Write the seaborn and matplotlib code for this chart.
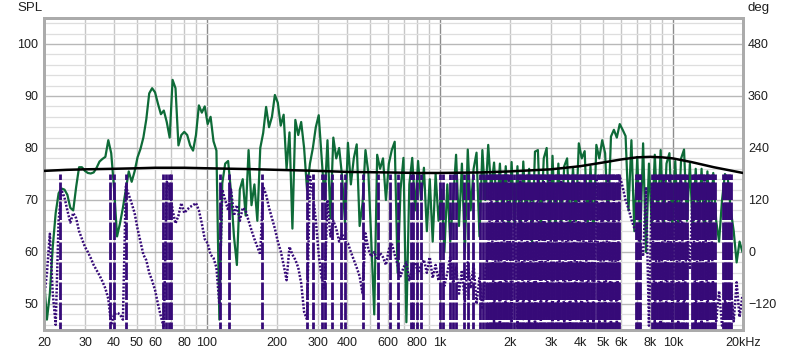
import numpy as np
import pandas as pd
import matplotlib
matplotlib.use("Agg")
import matplotlib.pyplot as plt
import seaborn as sns

# ---------------- data ----------------
# 1/24-octave measurement grid, 20 Hz .. 20 kHz
FREQ_HZ = 20.0 * 2.0 ** (np.arange(240) / 24.0)

SPL_DB = [
    55, 47, 52, 61, 67.5, 71.3, 72.2, 72, 71, 68.5,
    68, 72.5, 76.3, 76.3, 75.6, 75.2, 75.1, 75.3, 76.2, 77.4,
    77.9, 78.3, 81.5, 79, 72, 63, 65.5, 68.5, 72, 75.5,
    73.5, 75.5, 78.2, 79.8, 82, 85.5, 90.5, 91.5, 90.7, 88.5,
    86.5, 87.2, 85, 82, 93.1, 91.5, 80.5, 82.5, 83.1, 82.5,
    80.5, 79.5, 82.5, 88.2, 86.8, 88, 84.6, 86, 81.3, 79.5,
    47, 73.2, 77, 77.5, 71.5, 63, 57.5, 72, 74, 67,
    79.6, 69, 73, 66, 80, 82.9, 87.9, 84, 86, 90.2,
    88.7, 84.3, 86.4, 76, 83, 64.5, 85.4, 82.5, 85, 80,
    72, 77, 80, 84, 86.3, 78, 70, 81.5, 66.5, 82,
    78, 80, 74.5, 65.6, 81, 73, 78, 80.7, 65, 69.4,
    79.6, 75.2, 62, 48, 78.7, 76, 78, 70, 77, 79.6,
    81.2, 56, 72, 78.1, 46.5, 73, 78.1, 68, 77.5, 70,
    76.2, 64, 74, 62, 75, 66, 72, 60, 73, 62,
    70, 78.7, 65, 77, 60, 79.7, 68, 76, 79.1, 63,
    79.6, 70, 80.6, 72, 77.2, 68, 77, 66, 76.5, 64,
    77.3, 65, 76.5, 63, 77.4, 66, 76, 62, 79.3, 79.6,
    64, 78, 80, 63, 78.5, 64, 77, 65, 76.5, 78,
    64, 76.3, 66, 80.9, 78, 79.4, 65, 76.5, 63, 80.6,
    78, 81.5, 79, 66, 82.2, 83.5, 82, 84.6, 83.5, 82.3,
    68, 81.5, 64, 78.3, 62, 80.9, 60, 77, 65, 78.7,
    66, 79.6, 64, 77, 79, 65, 77.5, 64, 78, 79.7,
    66, 77, 64, 76, 65, 76, 63, 75.5, 64, 75.2,
    66, 62, 70, 75, 74, 68, 64, 58, 62, 60,
]

PHASE_DEG = [
    -108, -48, 42, -96, -168, 72, 143, 126, 96, 68,
    90, 78, 48, 30, 12, 0, -14, -30, -42, -54,
    -68, -84, -108, -168, -144, -140, -144, -156, 151, 132,
    112, 90, 54, 24, -6, -19, -48, -66, -88, -120,
    -149, -174, 162, 144, 96, 66, 84, 113, 90, 98,
    104, 108, 113, 96, 66, 30, 20, -6, -14, -36,
    -120, 144, 120, 96, 144, 84, 108, 72, 102, 96,
    72, 50, 30, 12, -6, 151, 132, 102, 78, 54,
    24, 2, -30, -65, 12, -6, -18, -36, -72, -138,
    -156, 174, 132, 74, -6, -60, -84, 120, 36, 72,
    54, 24, 42, 24, 20, 0, -18, -36, -56, -96,
    43, 6, -11, 0, -18, -2, -12, -30, 6, 20,
    -6, -30, -56, -36, -24, -65, -36, -24, -48, -31,
    -18, -48, -12, -60, -30, -66, -24, -78, -48, -12,
    -72, -36, -96, -42, -114, -24, -84, -30, -120, -60,
    -132, -48, 0,
    160, -165, 150, -170, 170, -150, 165, -160, 155, -175,
    170, -155, 160, -170, 150, -165, 175, -160, 165, -150,
    170, -170, 155, -160, 165, -175, 150, -165, 170, -155,
    160, -170, 165, -160, 150, -175, 170, -165, 155, -160,
    165, -170, 150, -170,
    175, 150, 120, 100, 75, 55, 40,
    20, -10, 150, -170,
    160, -165, 150, -170, 170, -150, 165, -160, 155, -175, 170, -155,
    60, -40,
    160, -170, 150, -165, 170, -160, 155,
    -100, -160, -90, -170, -110, -150, -80, -160, -70, -150, -100,
]

# frequencies (Hz) where the wrapped phase jumps from +180 to -180
PHASE_WRAP_HZ = [
    23.4, 38.4, 39.9, 44.8, 65.1, 67.1, 68.8, 70.5, 113.9, 124.5, 171.6,
    268, 286, 311, 321, 343, 377, 392, 466, 544, 611, 663, 752, 767, 795, 830,
    1001, 1031, 1105, 1139, 1173, 1270, 1321, 1387, 1487, 1532, 1578,
    1610, 1636, 1662, 1689, 1716, 1743, 1771, 1800, 1829, 1858, 1888, 1918,
    1949, 1975, 2028, 2090, 2150, 2178, 2213, 2249, 2285, 2321, 2358, 2396,
    2434, 2473, 2513, 2553, 2594, 2636, 2678, 2721, 2764, 2808, 2853, 2899,
    2945, 2992, 3040, 3089, 3138, 3188, 3239, 3291, 3344, 3397, 3452, 3507,
    3563, 3620, 3678, 3737, 3797, 3857, 3919, 3982, 4045, 4110, 4176, 4243,
    4310, 4379, 4449, 4521, 4593, 4741, 4817, 4894, 4972, 5052, 5133, 5215,
    5298, 5383, 5469, 5557, 5646, 5736, 5828, 5900,
    6950, 7050, 7150, 7250,
    8140, 8270, 8400, 8540, 8680, 8820, 8960, 9110, 9260, 9410, 9570, 9720,
    9880, 10210, 10380, 10550, 10720, 10900, 11080, 11260, 11450,
    12080, 12280, 12480, 12680, 12890, 13100, 13310, 13530, 13750, 13970,
    14200, 14430, 14660, 14900, 15140,
    16400, 16660, 16930, 17200, 17470, 17750,
]

TREND_HZ = [20, 25, 30, 40, 50, 60, 80, 100, 150, 200, 300, 400, 600, 800,
            1000, 1500, 2000, 3000, 4000, 5000, 6000, 7000, 8000, 9000,
            10000, 12000, 15000, 20000]
TREND_DB = [75.6, 75.8, 75.9, 76.0, 76.1, 76.2, 76.2, 76.1, 75.95, 75.8,
            75.6, 75.4, 75.3, 75.2, 75.2, 75.3, 75.5, 75.9, 76.5, 77.2,
            77.8, 78.2, 78.3, 78.2, 78.0, 77.3, 76.3, 75.2]

XMAJOR_HZ = [100, 1000, 10000]
XMAJOR_LABELS = ["100", "1k", "10k"]
XMINOR_HZ = [20, 30, 40, 50, 60, 70, 80, 90, 200, 300, 400, 500, 600, 700,
             800, 900, 2000, 3000, 4000, 5000, 6000, 7000, 8000, 9000, 20000]
XMINOR_LABELS = ["20", "30", "40", "50", "60", "", "80", "", "200", "300",
                 "400", "", "600", "", "800", "", "2k", "3k", "4k", "5k",
                 "6k", "", "8k", "", "20kHz"]
SPL_TICKS = [50, 60, 70, 80, 90, 100]
DEG_TICKS = [-120, 0, 120, 240, 360, 480]

# ---------------- styling ----------------
GREEN = "#0e6b38"
PURPLE = "#360a78"
FRAME = "#ababab"

sns.set_theme(style="white")
plt.rcParams["font.family"] = ["Liberation Sans", "DejaVu Sans"]
plt.rcParams["lines.scale_dashes"] = False

spl_df = pd.DataFrame({"freq": FREQ_HZ, "spl": SPL_DB})
ph_df = pd.DataFrame({"freq": FREQ_HZ, "deg": PHASE_DEG})
tr_df = pd.DataFrame({"freq": TREND_HZ, "spl": TREND_DB})

fig = plt.figure(figsize=(8, 3.54), dpi=100)
ax = fig.add_axes([44 / 800, 24 / 354, 699 / 800, 312 / 354])
ax.set_xscale("log")
ax.set_xlim(20, 20000)
ax.set_ylim(45, 105)

# grid
ax.set_axisbelow(True)
ax.set_xticks(XMAJOR_HZ, labels=XMAJOR_LABELS)
ax.set_xticks(XMINOR_HZ, labels=XMINOR_LABELS, minor=True)
ax.set_yticks(SPL_TICKS)
ax.yaxis.set_minor_locator(matplotlib.ticker.MultipleLocator(2))
ax.xaxis.grid(True, which="major", color="#8c8c8c", lw=1.0)
ax.xaxis.grid(True, which="minor", color="#c6c6c6", lw=1.0)
ax.yaxis.grid(True, which="major", color="#b8b8b8", lw=1.0)
ax.yaxis.grid(True, which="minor", color="#dedede", lw=0.9)

sns.lineplot(data=spl_df, x="freq", y="spl", ax=ax, color=GREEN, lw=1.6,
             estimator=None)

ax.tick_params(axis="both", which="both", length=0, labelsize=9,
               labelcolor="#1e1e1e")
ax.tick_params(axis="x", which="both", pad=5)
ax.tick_params(axis="y", which="both", pad=4.3)
ax.set_xlabel("")
ax.set_ylabel("")

# phase axis
ax2 = ax.twinx()
ax2.set_ylim(-180, 540)
ax2.vlines(PHASE_WRAP_HZ, -180, 180, colors=PURPLE, linewidth=2.0,
           linestyles=[(6.84, (12.6, 1.8))])
sns.lineplot(data=ph_df, x="freq", y="deg", ax=ax2, color=PURPLE, lw=1.8,
             linestyle=(0, (1.4, 1.2)), estimator=None)
ax2.set_yticks(DEG_TICKS)
ax2.tick_params(axis="y", length=0, labelsize=9, pad=3.6, labelcolor="#1e1e1e")
ax2.set_xlabel("")
ax2.set_ylabel("")
ax2.set_xlim(20, 20000)

# trend curve on top
ax3 = ax.twinx()
ax3.set_ylim(45, 105)
sns.lineplot(data=tr_df, x="freq", y="spl", ax=ax3, color="black", lw=1.8,
             estimator=None)
ax3.set_xlim(20, 20000)
ax3.axis("off")

for a in (ax, ax2):
    for s in a.spines.values():
        s.set_color(FRAME)
        s.set_linewidth(2.0)

fig.text(17 / 800, 1 - 8 / 354, "SPL", ha="left", va="center", fontsize=9.5,
         color="#1e1e1e")
fig.text(748 / 800, 1 - 8 / 354, "deg", ha="left", va="center", fontsize=9.5,
         color="#1e1e1e")

fig.savefig("out.png", dpi=100)
